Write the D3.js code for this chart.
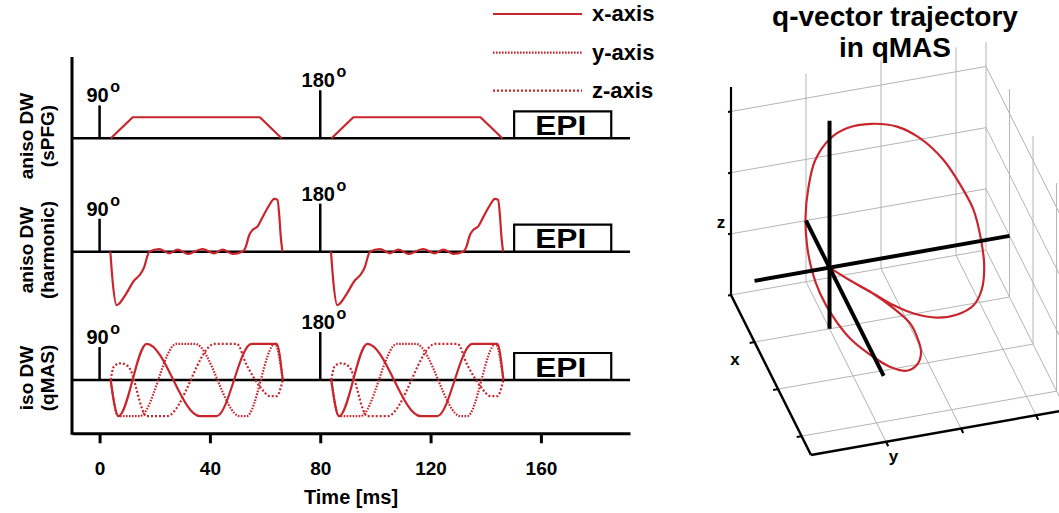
<!DOCTYPE html>
<html><head><meta charset="utf-8">
<script src="https://cdn.jsdelivr.net/npm/d3@7"></script>
<style>
body{margin:0;background:#fff}
svg{display:block}
text{font-family:"Liberation Sans",Arial,Helvetica,sans-serif;font-weight:bold;fill:#000}
</style>
</head><body>
<svg id="chart" width="1059" height="513"></svg>
<script>
// ---------------- DATA ----------------
const timeTicks = [0, 40, 80, 120, 160];
const timeDomain = [-10, 192.3];
const rowLabels = [["aniso DW", "(sPFG)"], ["aniso DW", "(harmonic)"], ["iso DW", "(qMAS)"]];
const pulseTimes = [0, 80];
const pulseLabels = ["90", "180"];
const pulseHeights = [0.61, 0.89];
const epiTimes = [150.3, 185.5];
const epiHeight = 0.5;
const legendLabels = ["x-axis", "y-axis", "z-axis"];

// sPFG gradient (x-axis)
const spfgT = [4.1, 12, 58.1, 66];
const spfgG = [0, 0.39, 0.39, 0];
// harmonic gradient (x-axis)
const harmT = [3.9, 4.7, 6.2, 7.1, 9.6, 12.6, 14.4, 16.2, 17.4, 18.0, 21.6, 25.3, 28.3, 31.9, 37.3, 41.6, 44.6, 48.2, 51.8, 53.0, 54.2, 55.4, 57.3, 59.1, 61.5, 63.3, 64.5, 65.1, 65.7, 66.3];
const harmG = [0, -0.53, -0.99, -0.96, -0.78, -0.53, -0.44, -0.28, -0.07, 0, 0.05, -0.03, 0.04, -0.04, 0.05, -0.03, 0.04, -0.04, 0, 0.09, 0.30, 0.40, 0.47, 0.64, 0.86, 0.98, 0.96, 0.70, 0.27, 0];
// qMAS gradients
const qmasXT = [4.0, 6.8, 17.1, 36.4, 42.4, 55.1, 64.2, 66.4];
const qmasXG = [0, -0.67, 0.67, -0.67, -0.67, 0.67, 0.67, 0];
const qmasYT = [4.0, 6.8, 14.6, 27.9, 34.6, 50.9, 53.3, 63.6, 66.4];
const qmasYG = [0, -0.67, -0.67, 0.67, 0.67, -0.67, -0.67, 0.67, 0];
const qmasZT = [4.0, 5.2, 7.4, 10.4, 17.1, 24.3, 41.8, 49.7, 53.3, 58.1, 61.8, 64.2, 66.4];
const qmasZG = [0, 0.25, 0.31, 0.25, -0.67, -0.67, 0.67, 0.67, 0.28, -0.12, -0.30, -0.30, 0];

// q-vector trajectory (3D)
const trajX = [0, 0.35, 0.7, 1.1, 1.45, 1.7, 1.85, 1.9, 1.85, 1.7, 1.45, 1.15, 0.85, 0.55, 0.3, 0.12, 0, 0, 0, 0, 0, 0, 0, 0, 0, 0, 0, 0, 0.2, 0.5, 0.8, 1.0, 1.0, 0.9, 0.7, 0.45, 0.2, 0];
const trajY = [0, 0.16, 0.32, 0.51, 0.62, 0.65, 0.64, 0.57, 0.45, 0.27, 0.09, -0.09, -0.22, -0.30, -0.33, -0.34, -0.32, -0.28, -0.19, 0.01, 0.23, 0.56, 0.90, 1.21, 1.52, 1.76, 1.92, 2.02, 2.00, 1.87, 1.67, 1.38, 1.12, 0.84, 0.63, 0.44, 0.23, 0];
const trajZ = [0, 0.03, 0.08, 0.07, 0.07, -0.02, -0.11, -0.25, -0.36, -0.37, -0.33, -0.25, -0.10, 0.07, 0.26, 0.56, 0.90, 1.38, 1.80, 2.11, 2.23, 2.23, 2.11, 1.85, 1.43, 0.94, 0.53, 0.02, -0.26, -0.39, -0.36, -0.30, -0.29, -0.24, -0.21, -0.17, -0.12, 0];
const box3d = [-1, 2.4];
const ticks3d = [0, 1, 2];
const zTicks3d = [-1, 0, 1, 2];
const crossEnds = {x: 2.3, y: 2.4, z: 2.4};
const titleLines = ["q-vector trajectory", "in qMAS"];

// ---------------- LAYOUT ----------------
const RED = "#c8262c";
const svg = d3.select("#chart");
const xT = d3.scaleLinear().domain(timeDomain).range([72, 630]);
const rowBase = [138.3, 251.7, 380];
const labelCenters = [136, 250, 378];
const unit = 54;
const yRow = rowBase.map(b => d3.scaleLinear().domain([-1, 1]).range([b + unit, b - unit]));
const axisY = 433.3;

const zip = (T, G) => T.map((t, i) => [t, G[i]]);

// left axis
svg.append("line").attr("x1", 72).attr("x2", 72).attr("y1", 57).attr("y2", axisY + 1.5)
  .attr("stroke", "#000").attr("stroke-width", 3);

// bottom axis
const ax = svg.append("g").attr("transform", `translate(0,${axisY})`)
  .call(d3.axisBottom(xT).tickValues(timeTicks).tickSize(10).tickSizeOuter(0).tickFormat(d3.format("d")));
ax.select(".domain").attr("stroke-width", 3);
ax.selectAll(".tick line").attr("stroke-width", 3);
ax.selectAll(".tick text").attr("y", 42).attr("dy", null)
  .style("font-size", "19px").style("font-family", '"Liberation Sans",Arial,sans-serif').style("font-weight", "bold");
svg.append("text").attr("x", (xT.range()[0] + xT.range()[1]) / 2).attr("y", 504)
  .attr("text-anchor", "middle").style("font-size", "20px").text("Time [ms]");

// row labels
rowLabels.forEach((lab, i) => {
  const cy = labelCenters[i];
  [33, 54].forEach((bx, j) => {
    svg.append("text").attr("transform", `translate(${bx},${cy}) rotate(-90)`)
      .attr("text-anchor", "middle").style("font-size", "19px").text(lab[j]);
  });
});

// rows
rowBase.forEach((b, i) => {
  const y = yRow[i];
  const g = svg.append("g");
  g.append("line").attr("x1", 72).attr("x2", 630).attr("y1", b).attr("y2", b)
    .attr("stroke", "#000").attr("stroke-width", 2.5);
  pulseTimes.forEach((pt, k) => {
    const px = xT(pt);
    const top = y(pulseHeights[k]);
    g.append("line").attr("x1", px).attr("x2", px).attr("y1", b).attr("y2", top)
      .attr("stroke", "#000").attr("stroke-width", 2.5);
    const t = g.append("text").attr("x", px - 2).attr("y", top - 3).attr("text-anchor", "middle")
      .style("font-size", "20px").text(pulseLabels[k]);
    const w = t.node().getComputedTextLength();
    g.append("text").attr("x", px - 2 + w / 2 + 1.5).attr("y", top - 13)
      .style("font-size", "16px").text("o");
  });
  const ex0 = xT(epiTimes[0]), ex1 = xT(epiTimes[1]), ey = y(epiHeight);
  g.append("path").attr("d", `M${ex0},${b}V${ey}H${ex1}V${b}`)
    .attr("fill", "none").attr("stroke", "#000").attr("stroke-width", 2.2);
  g.append("text").attr("x", (ex0 + ex1) / 2 - 2).attr("y", b - 3.5).attr("text-anchor", "middle")
    .attr("textLength", 51).attr("lengthAdjust", "spacingAndGlyphs")
    .style("font-size", "27px").text("EPI");
});

// waveforms
function drawWave(rowIdx, T, G, dash, curve) {
  const y = yRow[rowIdx];
  const data = zip(T, G);
  pulseTimes.forEach(p => {
    const line = d3.line().x(d => xT(d[0] + p)).y(d => y(d[1])).curve(curve);
    svg.append("path").attr("d", line(data)).attr("fill", "none")
      .attr("stroke", RED).attr("stroke-width", 2.2)
      .attr("stroke-dasharray", dash).attr("stroke-linejoin", "round");
  });
}
drawWave(0, spfgT, spfgG, null, d3.curveLinear);
drawWave(1, harmT, harmG, null, d3.curveMonotoneX);
drawWave(2, qmasZT, qmasZG, "2,2", d3.curveMonotoneX);
drawWave(2, qmasYT, qmasYG, "1.6,1.4", d3.curveMonotoneX);
drawWave(2, qmasXT, qmasXG, null, d3.curveMonotoneX);

// legend
const legDash = [null, "1.6,1.4", "2,2"];
const legY = [14, 52.7, 90.7];
legendLabels.forEach((l, i) => {
  svg.append("line").attr("x1", 493).attr("x2", 582).attr("y1", legY[i]).attr("y2", legY[i])
    .attr("stroke", RED).attr("stroke-width", 2.2).attr("stroke-dasharray", legDash[i]);
  svg.append("text").attr("x", 592).attr("y", legY[i] + 7).style("font-size", "22px").text(l);
});

// ---------------- 3D PANEL ----------------
const s3 = d3.scaleLinear().domain(box3d).range([0, 1]);
const O = [731, 295], EX = [80, 160], EY = [255, -45], EZ = [0, -208];
function P(x, y, z) {
  const fx = s3(x), fy = s3(y), fz = s3(z);
  return [O[0] + fx * EX[0] + fy * EY[0] + fz * EZ[0], O[1] + fx * EX[1] + fy * EY[1] + fz * EZ[1]];
}
const g3 = svg.append("g");
function seg(a, b, color, w) {
  const p1 = P(...a), p2 = P(...b);
  g3.append("line").attr("x1", p1[0]).attr("y1", p1[1]).attr("x2", p2[0]).attr("y2", p2[1])
    .attr("stroke", color).attr("stroke-width", w).attr("stroke-linecap", "butt");
}
const [lo, hi] = box3d;
const GRID = "#b4b4b4";
zTicks3d.forEach(z => seg([lo, lo, z], [lo, hi, z], GRID, 1));
ticks3d.concat([hi]).forEach(y => seg([lo, y, lo], [lo, y, hi], GRID, 1));
zTicks3d.forEach(z => seg([lo, hi, z], [hi, hi, z], GRID, 1));
ticks3d.forEach(x => seg([x, hi, lo], [x, hi, hi], GRID, 1));
ticks3d.forEach(x => seg([x, lo, lo], [x, hi, lo], GRID, 1));
ticks3d.forEach(y => seg([lo, y, lo], [hi, y, lo], GRID, 1));
seg([lo, lo, lo], [lo, lo, hi], "#000", 2.2);
seg([lo, lo, lo], [hi, lo, lo], "#000", 2.5);
seg([hi, lo, lo], [hi, hi, lo], "#000", 2.5);
function tickMark(pt, dir, len) {
  const p = P(...pt);
  g3.append("line").attr("x1", p[0]).attr("y1", p[1]).attr("x2", p[0] + dir[0] * len).attr("y2", p[1] + dir[1] * len)
    .attr("stroke", "#000").attr("stroke-width", 2);
}
const nY = Math.hypot(EY[0], EY[1]), nX = Math.hypot(EX[0], EX[1]);
zTicks3d.forEach(z => tickMark([lo, lo, z], [-EY[0] / nY, -EY[1] / nY], 3));
ticks3d.forEach(x => tickMark([x, lo, lo], [-EY[0] / nY, -EY[1] / nY], 5));
ticks3d.forEach(y => tickMark([hi, y, lo], [EX[0] / nX, EX[1] / nX], 5));

const trajPts = trajX.map((x, i) => P(x, trajY[i], trajZ[i]));
g3.append("path").attr("d", d3.line().curve(d3.curveCatmullRom.alpha(0.5))(trajPts))
  .attr("fill", "none").attr("stroke", RED).attr("stroke-width", 2.2);

seg([lo, 0, 0], [crossEnds.x, 0, 0], "#000", 4);
seg([0, lo, 0], [0, crossEnds.y, 0], "#000", 4);
seg([0, 0, lo], [0, 0, crossEnds.z], "#000", 4);

const pz = P(lo, lo, 0.2), px = P(0.36, lo, lo), py = P(hi, 0.1, lo);
g3.append("text").attr("x", pz[0] - 10).attr("y", pz[1] + 6).attr("text-anchor", "middle").style("font-size", "17px").text("z");
g3.append("text").attr("x", px[0] - 28).attr("y", px[1] + 6).attr("text-anchor", "middle").style("font-size", "17px").text("x");
g3.append("text").attr("x", py[0]).attr("y", py[1] + 22).attr("text-anchor", "middle").style("font-size", "17px").text("y");

titleLines.forEach((t, i) => {
  svg.append("text").attr("x", 895).attr("y", 26 + i * 31).attr("text-anchor", "middle")
    .style("font-size", "28px").text(t);
});
</script>
</body></html>
